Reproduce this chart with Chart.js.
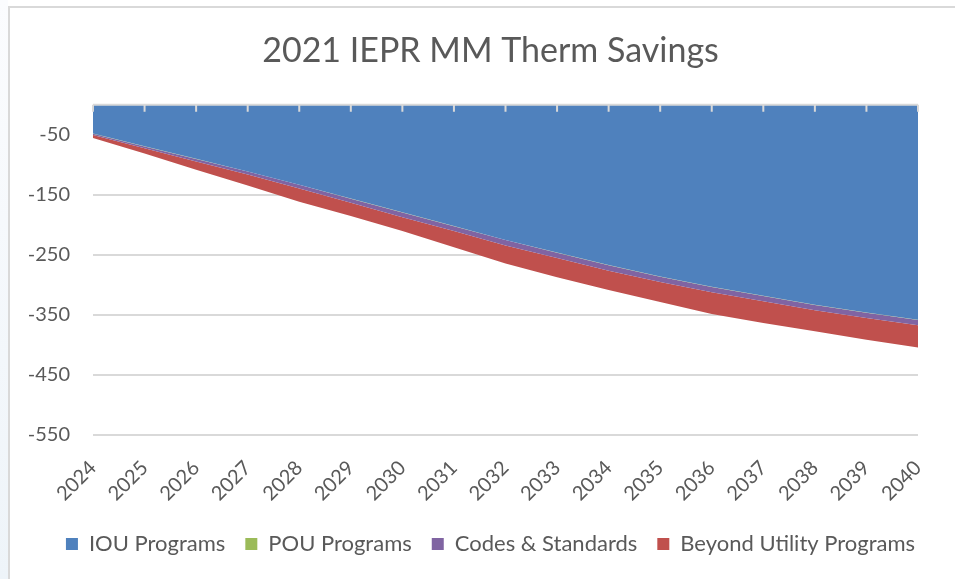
<!DOCTYPE html>
<html>
<head>
<meta charset="utf-8">
<title>2021 IEPR MM Therm Savings</title>
<script src="https://cdn.jsdelivr.net/npm/chart.js@4/dist/chart.umd.min.js"></script>
<style>
  html, body { margin: 0; padding: 0; background: #fff; }
  #wrap { position: relative; width: 955px; height: 579px; }
  #edge { position: absolute; left: 0; top: 0; width: 8px; height: 579px; background: linear-gradient(#fbfcfe, #eef4f9); }
  #frame { position: absolute; left: 8px; top: 6px; right: 0; bottom: 0; border-left: 2px solid #d9d9d9; border-top: 2px solid #d9d9d9; pointer-events: none; }
  canvas { position: absolute; left: 0; top: 0; }
</style>
</head>
<body>
<div id="wrap">
  <div id="edge"></div>
  <canvas id="thermChart" width="955" height="579"></canvas>
  <div id="frame"></div>
</div>
<script>
const years = ["2024", "2025", "2026", "2027", "2028", "2029", "2030", "2031", "2032",
  "2033", "2034", "2035", "2036", "2037", "2038", "2039", "2040"];
const iouPrograms = [-48, -69, -90, -111, -133, -156, -179, -202, -225, -246, -267, -286, -303, -318, -333, -346, -358];
const pouPrograms = [-0.3, -0.3, -0.3, -0.3, -0.3, -0.3, -0.3, -0.3, -0.3, -0.3, -0.3, -0.3, -0.3, -0.3, -0.3, -0.3, -0.3];
const codesStandards = [-2, -3, -4, -5, -6, -7, -8, -8, -9, -9, -9, -9, -9, -9, -9, -9, -9];
const beyondUtility = [-5, -9, -14, -18, -22, -22, -23, -27, -30, -32, -32, -33, -36, -36, -35, -36, -37];
const yTicks = [-50, -150, -250, -350, -450, -550];

const gray = '#595959';
const font = 'Lato, "Open Sans", sans-serif';

function area(label, data, color, fill) {
  return {
    label: label,
    data: data,
    backgroundColor: color,
    borderColor: 'rgba(0,0,0,0)',
    borderWidth: 0,
    pointRadius: 0,
    tension: 0,
    fill: fill
  };
}

// horizontal axis line at 0, with its tick marks, sits at the top of the plot
const zeroAxis = {
  id: 'zeroAxis',
  afterDatasetsDraw(chart) {
    const { ctx, chartArea, scales: { x, y } } = chart;
    const y0 = y.getPixelForValue(0);
    ctx.save();
    ctx.strokeStyle = '#d9d9d9';
    ctx.lineWidth = 2;
    ctx.beginPath();
    ctx.moveTo(chartArea.left, y0);
    ctx.lineTo(chartArea.right, y0);
    x.ticks.forEach((t, i) => {
      const px = x.getPixelForTick(i);
      ctx.moveTo(px, y0);
      ctx.lineTo(px, y0 + 7);
    });
    ctx.stroke();
    ctx.restore();
  }
};

const ctx = document.getElementById('thermChart').getContext('2d');
new Chart(ctx, {
  type: 'line',
  data: {
    labels: years,
    datasets: [
      area('IOU Programs', iouPrograms, '#4F81BD', 'origin'),
      area('POU Programs', pouPrograms, '#9BBB59', '-1'),
      area('Codes & Standards', codesStandards, '#8064A2', '-1'),
      area('Beyond Utility Programs', beyondUtility, '#C0504D', '-1')
    ]
  },
  options: {
    responsive: false,
    animation: false,
    layout: { padding: { left: 26, right: 0, top: 0, bottom: 14 } },
    plugins: {
      title: {
        display: true,
        text: '2021 IEPR MM Therm Savings',
        color: gray,
        font: { family: font, size: 34, weight: 'normal' },
        padding: { top: 31, bottom: 33 }
      },
      legend: {
        position: 'bottom',
        labels: {
          color: gray,
          font: { family: font, size: 22 },
          boxWidth: 12,
          boxHeight: 12,
          padding: 20
        }
      },
      tooltip: { enabled: false }
    },
    scales: {
      x: {
        offset: false,
        grid: { display: false },
        border: { display: false },
        ticks: {
          color: gray,
          font: { family: font, size: 20 },
          maxRotation: 45,
          minRotation: 45,
          autoSkip: false,
          padding: 13
        },
        afterFit(scale) { scale.height = 78; }
      },
      y: {
        stacked: true,
        min: -550,
        max: 0,
        border: { display: false },
        grid: { color: '#d9d9d9', lineWidth: 2, drawTicks: false },
        ticks: {
          color: gray,
          font: { family: font, size: 20 },
          padding: 23
        },
        afterBuildTicks(scale) {
          scale.ticks = yTicks.map(v => ({ value: v }));
        },
        afterFit(scale) { scale.width = 67; }
      },
      y2: {
        position: 'right',
        display: true,
        grid: { display: false },
        border: { display: false },
        ticks: { display: false },
        afterFit(scale) { scale.width = 37; }
      }
    }
  },
  plugins: [zeroAxis]
});
</script>
</body>
</html>
